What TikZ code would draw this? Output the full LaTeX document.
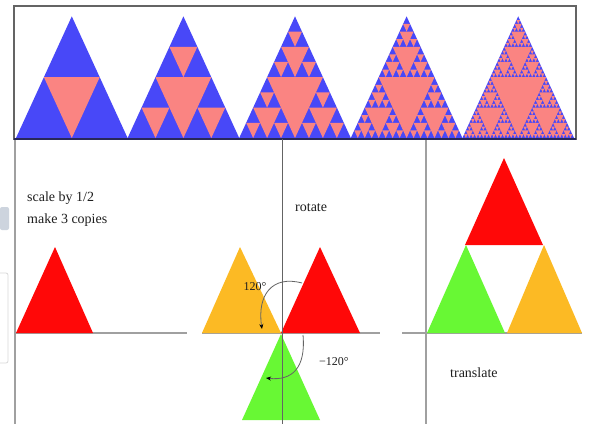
\documentclass[tikz,border=0pt]{standalone}
\usepackage{fontspec}
\setmainfont{Liberation Serif}
\usetikzlibrary{arrows.meta}
\definecolor{sblue}{RGB}{72,72,248}
\definecolor{spink}{RGB}{250,132,130}
\definecolor{tred}{RGB}{255,8,8}
\definecolor{torange}{RGB}{252,186,36}
\definecolor{tgreen}{RGB}{104,248,52}
\definecolor{linegray}{RGB}{160,160,160}
\definecolor{boxgray}{RGB}{100,100,100}
\definecolor{navy}{RGB}{40,40,90}
\definecolor{txt}{RGB}{30,30,30}
\definecolor{blob}{RGB}{205,212,222}
\newcommand\sierR{1.09}
\newcommand\sierp[4]{%
  \ifnum#1>0
    \pgfmathsetmacro\sierW{#4/2}%
    \pgfmathsetmacro\sierQ{#4/4}%
    \pgfmathsetmacro\sierH{#4*\sierR/2}%
    \pgfmathtruncatemacro\sierN{#1-1}%
    \fill[spink] ({#2+\sierQ},{#3-\sierH}) -- ({#2+3*\sierQ},{#3-\sierH}) -- ({#2+\sierW},#3) -- cycle;
    \pgfmathsetmacro\sierXR{#2+\sierW}%
    \pgfmathsetmacro\sierXT{#2+\sierQ}%
    \pgfmathsetmacro\sierYT{#3-\sierH}%
    \edef\sierTmp{\noexpand\sierp{\sierN}{#2}{#3}{\sierW}\noexpand\sierp{\sierN}{\sierXR}{#3}{\sierW}\noexpand\sierp{\sierN}{\sierXT}{\sierYT}{\sierW}}%
    \sierTmp
  \fi}
\tikzset{
  lbl/.style={text=txt, font=\fontsize{14}{15}\selectfont, inner sep=0pt, anchor=west},
  ang/.style={text=txt, font=\fontsize{12}{13}\selectfont, inner sep=0pt},
  guide/.style={draw=linegray, line width=1.3pt},
  rotarrow/.style={draw=boxgray, line width=0.8pt, -{Stealth[length=5pt,width=4pt,color=black]}},
}
\begin{document}
\begin{tikzpicture}[x=1pt,y=-1pt]
\useasboundingbox (0,0) rectangle (591,424);
\fill[white] (0,0) rectangle (591,424);
% faint artefacts at the left edge
\fill[blob, rounded corners=2pt] (0,207) rectangle (9,230);
\draw[black!15, line width=0.8pt, rounded corners=2pt] (-3,273) -- (8,273) -- (8,363) -- (-3,363);
% guide lines
\draw[guide] (15,139) -- (15,424);
\draw[guide] (426,139) -- (426,424);
\draw[guide] (15,333) -- (187,333);
\draw[guide] (202,333) -- (380,333);
\draw[guide] (402,333) -- (582,333);
% top: Sierpinski stages
\foreach \k/\d in {0/1,1/2,2/3,3/4,4/5}{
  \pgfmathsetmacro\xo{16+\k*111.6}
  \fill[sblue] (\xo,138) -- ({\xo+111.6},138) -- ({\xo+55.8},{138-111.6*\sierR}) -- cycle;
  \sierp{\d}{\xo}{138}{111.6}
}
\draw[boxgray, line width=1.4pt] (14,6) rectangle (576,139);
\draw[navy, line width=2pt] (14,139) -- (576,139);
% left panel
\node[lbl] (scale) at (27,198) {scale by 1/2};
\node[lbl] (copies) at (27,220) {make 3 copies};
\fill[tred] (16,333) -- (93,333) -- (55,247) -- cycle;
% middle panel
\fill[torange] (202,333) -- (281,333) -- (240,247) -- cycle;
\fill[tred] (281,333) -- (360,333) -- (320,247) -- cycle;
\fill[tgreen] (281,334) -- (320,420) -- (242,420) -- cycle;
\draw[boxgray, line width=0.9pt] (282,139) -- (282,424);
\node[lbl] (rot) at (295,208) {rotate};
\node[ang] (a1) at (255,287) {120°};
\node[ang] (a2) at (334,362) {−120°};
\coordinate (r1s) at (302,283);
\coordinate (r1e) at (262,329);
\coordinate (r2s) at (303,335);
\coordinate (r2e) at (266,378);
\draw[rotarrow] (r1s) .. controls (272,275) and (257,295) .. (r1e);
\draw[rotarrow] (r2s) .. controls (306,368) and (292,381) .. (r2e);
% right panel
\fill[tred] (465,245) -- (543,245) -- (504,158) -- cycle;
\fill[tgreen] (427,333) -- (505,333) -- (466,245) -- cycle;
\fill[torange] (507,333) -- (582,333) -- (544,245) -- cycle;
\node[lbl] (trans) at (450,373) {translate};
\end{tikzpicture}
\end{document}
